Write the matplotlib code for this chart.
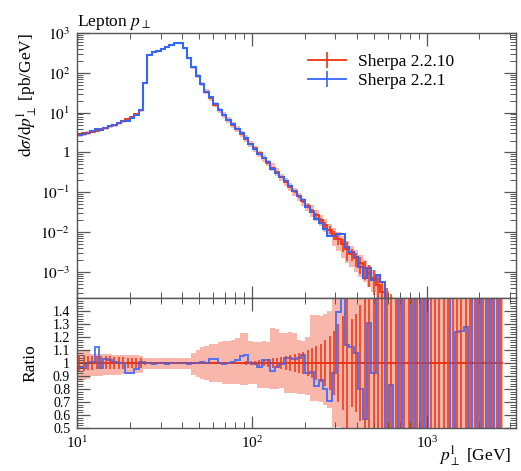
import numpy as np
import matplotlib.pyplot as plt
from matplotlib.lines import Line2D
from matplotlib.ticker import LogLocator, FixedLocator, NullFormatter, MultipleLocator

plt.rcParams['font.family'] = ['Liberation Serif', 'DejaVu Serif']
plt.rcParams['mathtext.fontset'] = 'stix'
plt.rcParams['font.size'] = 12.5

RED = '#EE3311'
BLUE = '#3366FF'

# binning: 100 log bins from 10 GeV to 3250 GeV (rivet logspace)
edges = np.logspace(1, np.log10(3250), 101)

# Sherpa 2.2.10 dsigma/dpT [pb/GeV], bins 0..96 (97..99 empty)
xs_2210 = [2.8, 3.0, 3.15, 3.35, 3.55, 3.8, 4.1, 4.5, 4.9, 5.4, 6.1, 6.9, 7.9, 9.2, 11.5,
           55, 286, 327, 360, 396, 437, 490, 561, 575, 417, 234, 138, 85, 52.5,
           33.9, 23.4, 16.0, 11.6, 8.71, 6.61, 5.01, 3.80, 2.88, 2.19, 1.66, 1.26, 0.955,
           0.724, 0.550, 0.417, 0.316, 0.240, 0.182, 0.138, 0.105,
           0.0794, 0.0603, 0.0457, 0.0347, 0.0263, 0.0200, 0.0151, 0.0115, 0.00871, 0.00661,
           0.00501, 0.00380, 0.00288, 0.00219, 0.00166, 0.00126, 9.55e-4, 6.92e-4, 4.79e-4, 3.16e-4,
           2.09e-4, 1.51e-4, 1.12e-4, 8.5e-5, 6.5e-5, 5e-5, 3.8e-5, 2.9e-5, 2.2e-5, 1.7e-5,
           1.3e-5, 1e-5, 7.5e-6, 5.8e-6, 4.4e-6, 3.4e-6, 2.6e-6, 2e-6, 1.5e-6, 1.2e-6,
           9e-7, 7e-7, 5.3e-7, 4e-7, 3e-7, 2.3e-7, 1.8e-7]

# ratio Sherpa 2.2.1 / Sherpa 2.2.10
ratio_221 = [0.97, 0.96, 1.0, 1.01, 1.12, 0.96, 1.03, 1.02, 1.01, 1.0, 1.0, 0.92, 0.92, 0.95, 1.01,
             1.0, 1.0, 0.995, 1.0, 1.0, 0.995, 1.0, 1.0, 1.0, 1.0, 0.995, 1.0, 1.0, 1.005, 1.0,
             1.03, 1.03, 1.0, 0.99, 1.0, 1.01, 1.02, 1.05, 1.06, 1.0,
             0.99, 0.97, 1.02, 1.02, 0.94, 0.97, 0.99, 1.04, 1.04, 1.03,
             1.04, 1.06, 0.92, 0.93, 0.82, 0.87, 0.80, 0.71, 0.92, 1.39,
             1.8, 1.14, 1.12, 1.08, 0.8, 0.57, 1.31, 0.92, 1.8, 1.8,
             0.0, 0.83, 0.0, 2.0, 0.0, 0.0, 2.0, 0.0, 2.0, 0.0,
             2.0, 2.0, 2.0, 2.0, 2.0, 0.0, 1.24, 1.25, 1.28, 0.0,
             2.0, 0.0, 2.0, 0.0, 2.0, 0.0, 2.0]

# relative stat. error of Sherpa 2.2.10
stat_2210 = [0.06, 0.06, 0.055, 0.055, 0.05, 0.05, 0.05, 0.05, 0.045, 0.045, 0.045, 0.04, 0.04, 0.04, 0.035,
             0.012, 0.004, 0.004, 0.004, 0.004, 0.004, 0.004, 0.004, 0.004, 0.004,
             0.004, 0.004, 0.004, 0.004, 0.004, 0.004, 0.004, 0.004, 0.004, 0.005, 0.006,
             0.008, 0.01, 0.012, 0.015, 0.018, 0.022, 0.026, 0.03, 0.035, 0.04, 0.046, 0.053, 0.06, 0.068,
             0.077, 0.087, 0.1, 0.115, 0.13, 0.15, 0.18, 0.21, 0.25, 0.3,
             0.36, 0.5, 0.34, 0.38, 0.45, 0.5, 0.56, 0.62, 0.7, 0.78,
             0.85, 0.9, 0.95, 1.0, 1.0, 1.0, 1.0, 1.0, 1.0, 1.0,
             1.0, 1.0, 1.0, 1.0, 1.0, 1.0, 1.0, 1.0, 1.0, 1.0,
             1.0, 1.0, 1.0, 1.0, 1.0, 1.0, 1.0]

# uncertainty band of Sherpa 2.2.10 (relative, up / down)
band_up = [0.10, 0.10, 0.09, 0.07, 0.07, 0.07, 0.07, 0.07, 0.065, 0.065, 0.06, 0.06, 0.06, 0.06, 0.055,
           0.035, 0.035, 0.035, 0.035, 0.035, 0.035, 0.035, 0.035, 0.035, 0.035, 0.035,
           0.08, 0.10, 0.12, 0.13, 0.15, 0.15, 0.16, 0.17, 0.17, 0.18,
           0.19, 0.23, 0.23, 0.17, 0.16, 0.16, 0.17, 0.16, 0.27, 0.26,
           0.23, 0.23, 0.24, 0.23, 0.18, 0.17, 0.2,
           0.37, 0.37, 0.36, 0.38, 0.4, 0.49, 0.49] + [0.6] * 37
band_dn = [0.14, 0.13, 0.12, 0.10, 0.10, 0.10, 0.095, 0.095, 0.09, 0.09, 0.085, 0.085, 0.085, 0.08, 0.08,
           0.047, 0.047, 0.047, 0.047, 0.047, 0.047, 0.047, 0.047, 0.047, 0.047, 0.047,
           0.09, 0.11, 0.125, 0.13, 0.15, 0.15, 0.15, 0.16, 0.16, 0.16,
           0.16, 0.17, 0.17, 0.16, 0.16, 0.19, 0.19, 0.19, 0.2, 0.2,
           0.19, 0.23, 0.23, 0.23, 0.24, 0.24, 0.25,
           0.29, 0.29, 0.3, 0.32, 0.35, 0.49, 0.49] + [0.55] * 37

red = np.array(xs_2210)
rat = np.array(ratio_221)
err = np.array(stat_2210)
up = np.array(band_up)
dn = np.array(band_dn)
blue = red * rat
n = len(red)
e = edges[:n + 1]
centers = np.sqrt(e[:-1] * e[1:])

fig = plt.figure(figsize=(5.21, 4.71), dpi=100)
ax = fig.add_axes([0.148, 0.3673, 0.843, 0.5626])
axr = fig.add_axes([0.148, 0.0913, 0.843, 0.276], sharex=ax)

# main panel
tiny = 1e-12
ax.stairs(red * (1 + up), e, baseline=np.clip(red * (1 - dn), tiny, None), fill=True,
          color=RED, alpha=0.35, lw=0)
ax.vlines(centers, np.clip(red * (1 - err), tiny, None), red * (1 + err), color=RED, lw=1.1)
ax.stairs(red, e, baseline=None, color=RED, lw=1.3)
ax.stairs(np.clip(blue, tiny, None), e, baseline=None, color=BLUE, lw=1.5)

ax.set_xscale('log')
ax.set_yscale('log')
ax.set_xlim(10, 3250)
ax.set_ylim(2.22e-4, 1e3)
ax.yaxis.set_major_locator(FixedLocator([1e-3, 1e-2, 1e-1, 1, 10, 100, 1000]))
ax.set_yticklabels([r'$10^{-3}$', r'$10^{-2}$', r'$10^{-1}$', '1', r'$10^{1}$', r'$10^{2}$', r'$10^{3}$'])
ax.yaxis.set_minor_locator(LogLocator(subs=np.arange(2, 10), numticks=20))
ax.yaxis.set_minor_formatter(NullFormatter())
ax.tick_params(labelbottom=False)
ax.set_ylabel(r'$\mathrm{d}\sigma/\mathrm{d}p_\perp^\mathrm{l}$ [pb/GeV]', loc='top', labelpad=1)

handles = [Line2D([0], [0], color=RED, lw=1.3, marker='|', ms=11, mew=1.2),
           Line2D([0], [0], color=BLUE, lw=1.3, marker='|', ms=11, mew=1.2)]
ax.legend(handles, ['Sherpa 2.2.10', 'Sherpa 2.2.1'], loc='upper left',
          bbox_to_anchor=(0.525, 0.92), frameon=False, borderpad=0, borderaxespad=0,
          handlelength=2.2, handletextpad=0.7, labelspacing=0.15)

fig.text(0.148, 1 - 22 / 471, r'Lepton $p_\perp$', ha='left', va='center')

# ratio panel
axr.stairs(1 + up, e, baseline=1 - dn, fill=True, color=RED, alpha=0.35, lw=0)
axr.vlines(centers, 1 - err, 1 + err, color=RED, lw=1.1)
axr.stairs(np.ones(n), e, baseline=None, color=RED, lw=1.4)
axr.stairs(rat, e, baseline=None, color=BLUE, lw=1.4, alpha=0.85)
axr.set_ylim(0.5, 1.5)
axr.yaxis.set_major_locator(FixedLocator([0.5, 0.6, 0.7, 0.8, 0.9, 1.0, 1.1, 1.2, 1.3, 1.4]))
axr.set_yticklabels(['0.5', '0.6', '0.7', '0.8', '0.9', '1', '1.1', '1.2', '1.3', '1.4'])
axr.yaxis.set_minor_locator(MultipleLocator(0.02))
axr.set_ylabel('Ratio', labelpad=10)
fig.text(511 / 521, 1 - 456 / 471, r'$p_\perp^\mathrm{l}$ [GeV]', ha='right', va='center')

for a in (ax, axr):
    a.xaxis.set_minor_locator(LogLocator(subs=np.arange(2, 10), numticks=20))
    a.xaxis.set_minor_formatter(NullFormatter())
    a.tick_params(which='both', direction='in', top=True, right=True, color='#555555')
    a.tick_params(which='major', length=9, width=0.9, pad=5, labelsize=11)
    a.tick_params(which='minor', length=4.5, width=0.7)
    for s in a.spines.values():
        s.set_color('#555555')
        s.set_linewidth(1.0)
axr.tick_params(axis='y', which='major', labelsize=10)

fig.savefig('out.png', dpi=100)
